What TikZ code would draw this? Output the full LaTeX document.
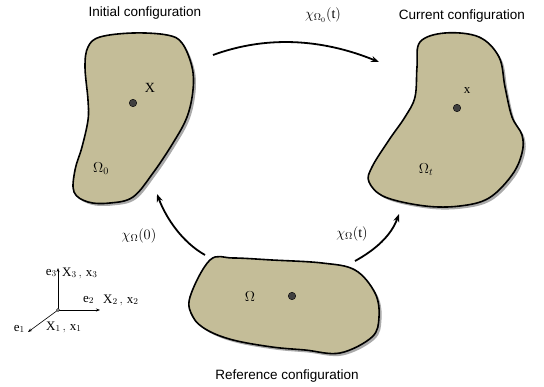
\documentclass[tikz,border=0pt]{standalone}
\usepackage{fontspec}
\setmainfont{Liberation Serif}
\newfontfamily\titlefont{Liberation Sans}
\usetikzlibrary{arrows.meta}
\definecolor{blobfill}{RGB}{196,189,152}
\definecolor{blobshadow}{RGB}{170,170,170}
\begin{document}
\begin{tikzpicture}[x=1pt,y=-1pt,
  blob/.style={draw=black,line width=1.6pt,fill=blobfill},
  shadowblob/.style={fill=blobshadow},
  maparrow/.style={line width=1.8pt,-{Stealth[length=8pt,width=6pt]}},
  axisarrow/.style={line width=0.6pt,-{Stealth[length=4pt,width=3pt]}},
  title/.style={font=\titlefont\fontsize{13.5}{16}\selectfont},
  mlabel/.style={font=\fontsize{14}{16}\selectfont},
  slabel/.style={font=\fontsize{13}{15}\selectfont},
  dot/.style={circle,fill=black!75,draw=black,line width=0.4pt,inner sep=0pt,minimum size=7.5pt}]
\useasboundingbox (0,0) rectangle (544,387);
\fill[white] (0,0) rectangle (544,387);
% Initial configuration blob
\def\initblob{plot[smooth cycle,tension=0.6] coordinates {(100,37) (133,33) (167,35) (182,43) (192,67) (193,90) (187,117) (173,143) (153,173) (133,197) (110,203) (88,202) (74,192) (75,170) (82,147) (88,120) (88,100) (85,67) (88,47)}}
\fill[shadowblob,xshift=2.5pt,yshift=-2.5pt] \initblob;
\draw[blob] \initblob;
% Current configuration blob
\def\curblob{plot[smooth cycle,tension=0.6] coordinates {(420,42) (445,33) (479,37) (499,57) (505,87) (512,117) (522,135) (522,153) (512,175) (489,198) (460,206) (425,206) (385,197) (369,182) (372,167) (389,140) (405,117) (415,97) (417,67)}}
\fill[shadowblob,xshift=2.5pt,yshift=-2.5pt] \curblob;
\draw[blob] \curblob;
% Reference configuration blob
\def\refblob{plot[smooth cycle,tension=0.6] coordinates {(210,260) (233,258) (272,260) (322,263) (355,270) (375,293) (379,317) (372,337) (340,353) (305,350) (272,347) (233,340) (207,330) (193,317) (190,297)}}
\fill[shadowblob,xshift=2.5pt,yshift=-2.5pt] \refblob;
\draw[blob] \refblob;
% points
\node[dot] (P0) at (133,103) {};
\node[dot] (Pt) at (457,108) {};
\node[dot] (PR) at (292,296) {};
\node[mlabel] (lX) at (150,88) {X};
\node[slabel] (lx) at (467,91) {x};
\node[mlabel] (lO0) at (101,169) {$\Omega_0$};
\node[mlabel] (lOt) at (426,170) {$\Omega_t$};
\node[mlabel] (lO) at (250,297) {$\Omega$};
% titles
\node[title] (tI) at (145,13) {Initial configuration};
\node[title] (tC) at (462,16) {Current configuration};
\node[title] (tR) at (287,376) {Reference configuration};
% mapping arrows
\coordinate (a1s) at (213,55);
\coordinate (a1e) at (379,62);
\draw[maparrow] (a1s) .. controls (265,36) and (320,38) .. (a1e);
\node[mlabel] (l1) at (323,15) {$\chi_{\Omega_0}(\mathrm{t})$};
\coordinate (a2s) at (205,255);
\coordinate (a2e) at (157,194);
\draw[maparrow] (a2s) .. controls (182,242) and (166,218) .. (a2e);
\node[mlabel] (l2) at (139,236) {$\chi_\Omega(0)$};
\coordinate (a3s) at (355,261);
\coordinate (a3e) at (399,214);
\draw[maparrow] (a3s) .. controls (375,250) and (391,236) .. (a3e);
\node[mlabel] (l3) at (352,234) {$\chi_\Omega(\mathrm{t})$};
% coordinate system
\coordinate (O) at (58,310);
\coordinate (e3) at (58,268);
\coordinate (e2) at (100,310);
\coordinate (e1) at (28,332);
\draw[axisarrow] (O) -- (e3);
\draw[axisarrow] (O) -- (e2);
\draw[axisarrow] (O) -- (e1);
\draw[fill=white,line width=0.4pt] (O) circle (1.5pt);
\node[slabel,anchor=east,inner sep=1pt] (le3) at (58,273) {$\mathrm{e}_3$};
\node[slabel,anchor=west,inner sep=1pt] (lX3) at (61,273) {$\mathrm{X}_3\,,\,\mathrm{x}_3$};
\node[slabel,anchor=west,inner sep=1pt] (le2) at (82,300) {$\mathrm{e}_2$};
\node[slabel,anchor=west,inner sep=1pt] (lX2) at (102,300) {$\mathrm{X}_2\,,\,\mathrm{x}_2$};
\node[slabel,anchor=east,inner sep=1pt] (le1) at (26,329) {$\mathrm{e}_1$};
\node[slabel,anchor=west,inner sep=1pt] (lX1) at (45,327) {$\mathrm{X}_1\,,\,\mathrm{x}_1$};
\end{tikzpicture}
\end{document}
